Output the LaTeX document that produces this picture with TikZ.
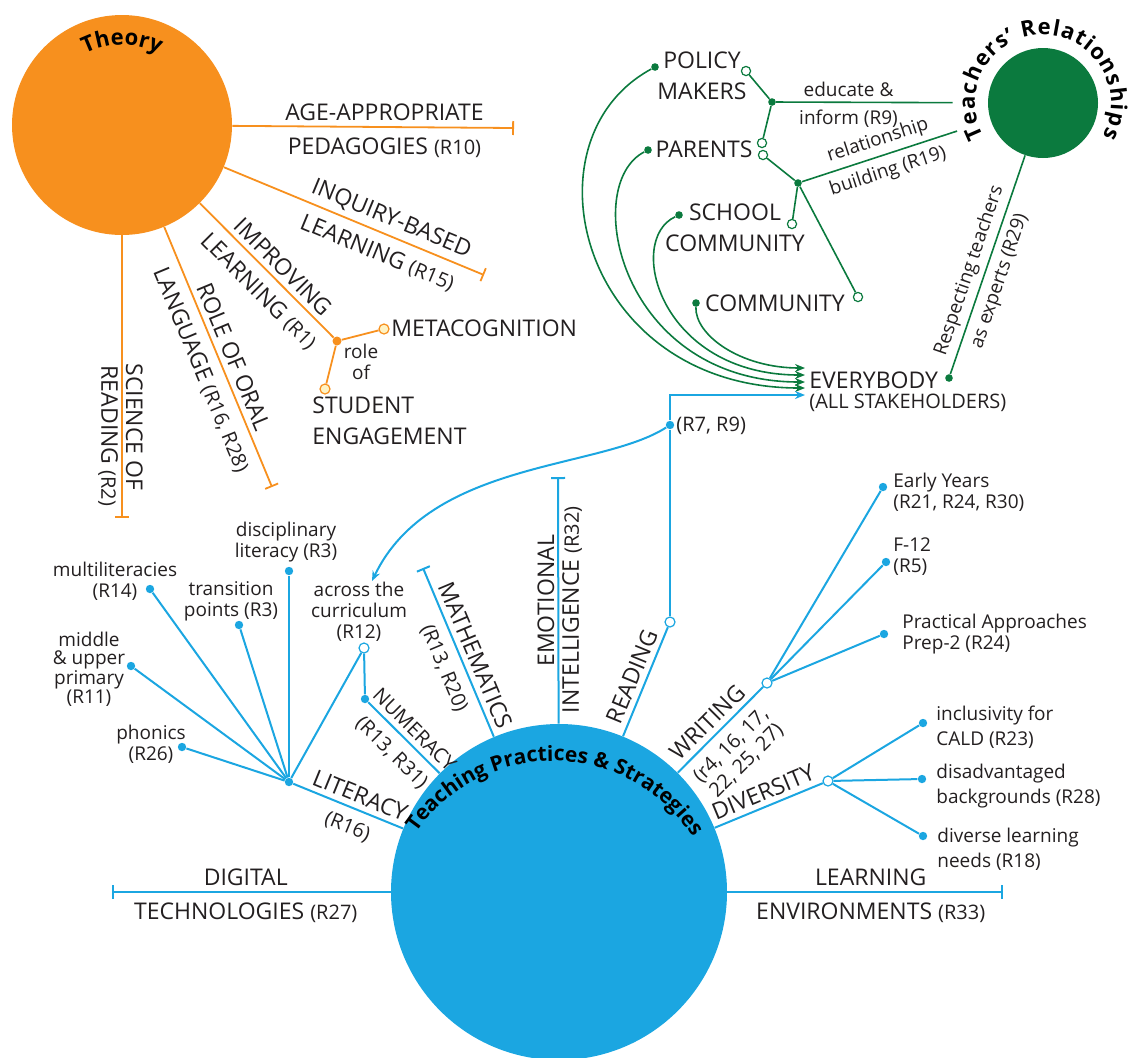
\documentclass[tikz,border=0pt]{standalone}
\usepackage{fontspec}
\setmainfont{Open Sans}
\usetikzlibrary{positioning, arrows.meta, decorations.text}
\definecolor{thorange}{HTML}{F7901E}
\definecolor{ocream}{HTML}{FFF3C4}
\definecolor{trgreen}{HTML}{0B7A3E}
\definecolor{tpblue}{HTML}{1BA6E1}
\definecolor{ink}{HTML}{231F20}
\newcommand{\capfont}{\fontsize{11.5}{15.5}\selectfont}
\newcommand{\smfont}{\fontsize{9.5}{10.5}\selectfont}
\newcommand{\divfont}{\fontsize{9.5}{12.5}\selectfont}
\newcommand{\tightfont}{\fontsize{9.5}{9.2}\selectfont}
\newcommand{\rnum}[1]{{\fontsize{10}{12}\selectfont #1}}
\newcommand{\thfont}{\bfseries\fontsize{11}{13}\selectfont}
\newcommand{\trfont}{\bfseries\fontsize{11}{13}\selectfont}
\newcommand{\tpfont}{\bfseries\fontsize{10.5}{12}\selectfont}
\tikzset{
  hubc/.style={circle, inner sep=0pt},
  lbl/.style={font=\capfont, text=ink, inner sep=1.5pt, align=center},
  slbl/.style={font=\smfont, text=ink, inner sep=1.5pt, align=center},
  oline/.style={draw=thorange, line width=0.9pt},
  gline/.style={draw=trgreen, line width=0.8pt},
  bline/.style={draw=tpblue, line width=1pt},
  teeE/.style={-{Bar[width=7pt]}},
  teeS/.style={{Bar[width=7pt]}-},
  tipE/.style={-{Stealth[length=5pt, width=4pt]}},
  odot/.style={circle, fill=thorange, inner sep=0pt, minimum size=4.5pt},
  oopen/.style={circle, draw=thorange, fill=ocream, line width=0.6pt, inner sep=0pt, minimum size=5pt},
  gdot/.style={circle, fill=trgreen, inner sep=0pt, minimum size=3.8pt},
  gopen/.style={circle, draw=trgreen, fill=white, line width=0.6pt, inner sep=0pt, minimum size=4.6pt},
  bdot/.style={circle, fill=tpblue, inner sep=0pt, minimum size=4.2pt},
  bopen/.style={circle, draw=tpblue, fill=white, line width=0.6pt, inner sep=0pt, minimum size=5pt}
}
\begin{document}
\begin{tikzpicture}[x=0.5pt, y=-0.5pt]
  \useasboundingbox (0,0) rectangle (1135,1057);
  % hubs
  \node[hubc, fill=thorange, minimum size=110pt] (theory) at (122,125) {};
  \node[hubc, fill=tpblue, minimum size=168pt] (tps) at (559,892) {};
  \node[hubc, fill=trgreen, minimum size=55pt] (trel) at (1043,103) {};
  \node[hubc, minimum size=90pt] (trring) at (1043,103) {};
  \coordinate (tpsT) at (553,927);
  \path[decorate, decoration={text along path, text align=center, text={|\thfont|Theory}}]
    ([shift={(130:40pt)}]theory.center) arc[start angle=130, end angle=50, radius=40pt];
  \path[decorate, decoration={text along path, text align=fit to path, text={|\trfont|Teachers’ Relationships}}]
    ([shift={(209:34pt)}]trel.center) arc[start angle=209, end angle=-29, radius=34pt];
  \path[decorate, decoration={text along path, text align=center, text={|\tpfont|Teaching Practices {\&} Strategies}}]
    ([shift={(150:83pt)}]tpsT) arc[start angle=150, end angle=28, radius=83pt];

  % theory
  \coordinate (ageE) at (514,128);
  \coordinate (inqE) at (484,275);
  \coordinate (oraE) at (272,487);
  \coordinate (sciE) at (122,518);
  \node[odot] (thjn) at (337,341) {};
  \node[oopen] (metaO) at (384,329) {};
  \node[oopen] (studO) at (325,389) {};
  \draw[oline, teeE] (theory) -- node[lbl, above=1pt, pos=0.54] (ageA) {AGE-APPROPRIATE}
    node[lbl, below=3.5pt, pos=0.54] (ageB) {PEDAGOGIES \rnum{(R10)}} (ageE);
  \draw[oline, teeE] (theory) -- node[lbl, sloped, above=1pt, pos=0.62] (inqA) {INQUIRY-BASED}
    node[lbl, sloped, below=3.5pt, pos=0.62] (inqB) {LEARNING \rnum{(R15)}} (inqE);
  \draw[oline] (theory) -- node[lbl, sloped, above=1pt, pos=0.55] (impA) {IMPROVING}
    node[lbl, sloped, below=3.5pt, pos=0.55] (impB) {LEARNING \rnum{(R1)}} (thjn);
  \draw[oline, teeE] (theory) -- node[lbl, sloped, above=1pt, pos=0.52] (oraA) {ROLE OF ORAL}
    node[lbl, sloped, below=3.5pt, pos=0.52] (oraB) {LANGUAGE \rnum{(R16, R28)}} (oraE);
  \draw[oline, teeE] (theory) -- node[lbl, rotate=-90, above=1pt, pos=0.685] (sciA) {SCIENCE OF}
    node[lbl, rotate=-90, below=3.5pt, pos=0.685] (sciB) {READING \rnum{(R2)}} (sciE);
  \draw[oline] (thjn) -- (metaO);
  \draw[oline] (thjn) -- (studO);
  \node[lbl, anchor=west, inner sep=0pt] (meta) at (391,328) {METACOGNITION};
  \node[lbl, align=left, anchor=north west, inner sep=0pt] (stud) at (312,396) {STUDENT\\ENGAGEMENT};
  \node[slbl] (roleof) at (361,362) {role\\of};

  % relationships
  \node[gdot] (polD) at (655,67) {};
  \node[gdot] (parD) at (648,150) {};
  \node[gdot] (schD) at (679,215) {};
  \node[gdot] (comD) at (696,303) {};
  \node[gopen] (polO) at (746,71) {};
  \node[gopen] (parO) at (762,143) {};
  \node[gopen] (parP) at (763,155) {};
  \node[gopen] (schO) at (792,224) {};
  \node[gopen] (comO) at (858,297) {};
  \node[gdot] (gjnA) at (772,102) {};
  \node[gdot] (gjnB) at (798,183) {};
  \node[gdot] (evD) at (949,378) {};
  \node[lbl] (pol) at (702,76) {POLICY\\MAKERS};
  \node[lbl] (par) at (704,149) {PARENTS};
  \node[lbl] (sch) at (735,228) {SCHOOL\\COMMUNITY};
  \node[lbl] (com) at (775,303) {COMMUNITY};
  \node[lbl, anchor=west, inner sep=0pt] (every) at (809,380) {EVERYBODY};
  \node[lbl, font=\fontsize{10}{12}\selectfont, inner sep=0pt, below=2.5pt of every.south west, anchor=north west] (allst) {(ALL STAKEHOLDERS)};
  \draw[gline] (gjnA) -- (polO);
  \draw[gline] (gjnA) -- (parO);
  \draw[gline] (gjnA) -- node[slbl, above=1pt, pos=0.41] (edu) {educate \&}
    node[slbl, below=2pt, pos=0.41] (inf) {inform (R9)} (trring);
  \draw[gline] (gjnB) -- (parP);
  \draw[gline] (gjnB) -- (schO);
  \draw[gline] (gjnB) -- (comO);
  \draw[gline] (gjnB) -- node[slbl, sloped, above=1pt, pos=0.52] (rel) {relationship}
    node[slbl, sloped, below=2pt, pos=0.52] (bld) {building (R19)} (trring);
  \draw[gline] (evD) -- node[slbl, sloped, above=1pt, pos=0.45] (resp) {Respecting teachers}
    node[slbl, sloped, below=2pt, pos=0.45] (asexp) {as experts (R29)} (trel);
  \coordinate (evA) at (805,368);
  \coordinate (evB) at (805,375);
  \coordinate (evC) at (805,382);
  \coordinate (evE) at (805,388);
  \coordinate (evF) at (805,395);
  \draw[gline, tipE] (comD) .. controls (695,335) and (740,368) .. (evA);
  \draw[gline, tipE] (schD) .. controls (625,240) and (660,375) .. (evB);
  \draw[gline, tipE] (parD) .. controls (580,185) and (620,382) .. (evC);
  \draw[gline, tipE] (polD) .. controls (520,140) and (580,388) .. (evE);

  % teaching practices
  \node[bdot] (bjn) at (670,425) {};
  \node[lbl, font=\fontsize{10}{12}\selectfont, anchor=west, inner sep=0pt] (r79) at (676,426) {(R7, R9)};
  \node[bopen] (readO) at (670,622) {};
  \coordinate (acrT) at (372,581);
  \draw[bline, tipE] (bjn) |- (evF);
  \draw[bline] (bjn) -- (readO);
  \draw[bline, tipE] (bjn) .. controls (600,470) and (430,460) .. (acrT);
  \draw[bline] (tps) -- node[lbl, sloped, above=1pt, pos=0.5] (read) {READING} (readO);
  \coordinate (emoE) at (558,477);
  \draw[bline, teeE] (tps) -- node[lbl, rotate=90, above=1pt, pos=0.49] (emoA) {EMOTIONAL}
    node[lbl, rotate=90, below=3.5pt, pos=0.49] (emoB) {INTELLIGENCE \rnum{(R32)}} (emoE);
  \coordinate (mathE) at (423,568);
  \draw[bline, teeS] (mathE) -- node[lbl, sloped, above=1pt, pos=0.55] (mathA) {MATHEMATICS}
    node[lbl, sloped, below=3.5pt, pos=0.55] (mathB) {\rnum{(R13, R20)}} (tps);
  \node[bdot] (numD) at (365,699) {};
  \node[bopen] (acrO) at (364,648) {};
  \node[bdot] (litH) at (289,782) {};
  \draw[bline] (numD) -- node[lbl, font=\fontsize{10}{12}\selectfont, sloped, above=1pt, pos=0.52] (numA) {NUMERACY}
    node[lbl, sloped, below=3.5pt, pos=0.52] (numB) {\rnum{(R13, R31)}} (tps);
  \draw[bline] (acrO) -- (numD);
  \draw[bline] (litH) -- (acrO);
  \draw[bline] (litH) -- node[lbl, sloped, above=1pt, pos=0.56] (litA) {LITERACY}
    node[lbl, sloped, below=3.5pt, pos=0.56] (litB) {\rnum{(R16)}} (tps);
  \node[bdot] (phoD) at (182,747) {};
  \node[bdot] (midD) at (131,666) {};
  \node[bdot] (mulD) at (150,589) {};
  \node[bdot] (traD) at (239,625) {};
  \node[bdot] (disD) at (289,571) {};
  \node[slbl] (pho) at (151,744) {phonics\\(R26)};
  \node[slbl, font=\tightfont] (mid) at (89,669) {middle\\\& upper\\primary\\(R11)};
  \node[slbl] (mul) at (115,581) {multiliteracies\\(R14)};
  \node[slbl] (tra) at (231,601) {transition\\points (R3)};
  \node[slbl] (dis) at (286,542) {disciplinary\\literacy (R3)};
  \node[slbl] (acr) at (359,612) {across the\\curriculum\\(R12)};
  \foreach \d in {phoD, midD, mulD, traD, disD}
    \draw[bline] (litH) -- (\d);
  \node[bopen] (wrO) at (767,683) {};
  \draw[bline] (tps) -- node[lbl, sloped, above=1pt, pos=0.47] (wrA) {WRITING}
    node[slbl, font=\fontsize{10}{11}\selectfont, sloped, below=3pt, pos=0.47] (wrB) {(r4, 16, 17,\\22, 25, 27)} (wrO);
  \node[bdot] (eyD) at (883,487) {};
  \node[bdot] (f12D) at (886,562) {};
  \node[bdot] (praD) at (884,634) {};
  \node[slbl, align=left, anchor=west] (ey) at (890,492) {Early Years\\(R21, R24, R30)};
  \node[slbl, align=left, anchor=west] (f12) at (890,557) {F-12\\(R5)};
  \node[slbl, align=left, anchor=west] (pra) at (899,634) {Practical Approaches\\Prep-2 (R24)};
  \foreach \d in {eyD, f12D, praD}
    \draw[bline] (wrO) -- (\d);
  \node[bopen] (divO) at (828,781) {};
  \draw[bline] (tps) -- node[lbl, sloped, above=1pt, pos=0.5] (divA) {DIVERSITY} (divO);
  \node[bdot] (incD) at (923,723) {};
  \node[bdot] (disaD) at (922,779) {};
  \node[bdot] (dvlD) at (923,836) {};
  \node[slbl, font=\divfont, align=left, anchor=west] (inc) at (933,727) {inclusivity for\\CALD (R23)};
  \node[slbl, font=\divfont, align=left, anchor=west] (disa) at (933,786) {disadvantaged\\backgrounds (R28)};
  \node[slbl, font=\divfont, align=left, anchor=west] (dvl) at (934,849) {diverse learning\\needs (R18)};
  \foreach \d in {incD, disaD, dvlD}
    \draw[bline] (divO) -- (\d);
  \coordinate (digE) at (112,892);
  \coordinate (lenE) at (1003,892);
  \draw[bline, teeS] (digE) -- node[lbl, above=1pt, pos=0.48] (digA) {DIGITAL}
    node[lbl, below=3.5pt, pos=0.48] (digB) {TECHNOLOGIES \rnum{(R27)}} (tps);
  \draw[bline, teeE] (tps) -- node[lbl, above=1pt, pos=0.52] (lenA) {LEARNING}
    node[lbl, below=3.5pt, pos=0.52] (lenB) {ENVIRONMENTS \rnum{(R33)}} (lenE);
\end{tikzpicture}
\end{document}
